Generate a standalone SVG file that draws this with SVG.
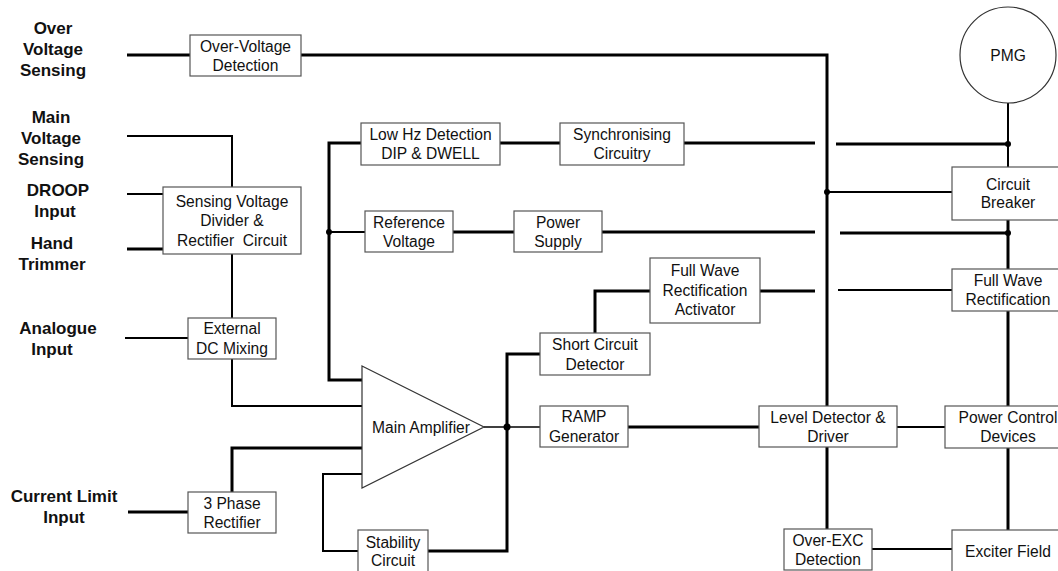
<svg xmlns="http://www.w3.org/2000/svg" width="1058" height="571" viewBox="0 0 1058 571">
<style>
.box{fill:#fff;stroke:#555;stroke-width:1.2}
.t{font-family:"Liberation Sans",Arial,sans-serif;font-size:15.6px;fill:#111;text-anchor:middle;dominant-baseline:central}
.lb{font-family:"Liberation Sans",Arial,sans-serif;font-size:17px;font-weight:bold;fill:#111;text-anchor:middle;dominant-baseline:central}
.w{fill:none;stroke:#000;stroke-width:3;stroke-linejoin:miter}
.n{fill:none;stroke:#000;stroke-width:2}
.h{fill:none;stroke:#000;stroke-width:1.3}
</style>
<rect width="1058" height="571" fill="#fff"/>
<g id="labels">
<text class="lb" x="53" y="28">Over</text><text class="lb" x="53" y="49">Voltage</text><text class="lb" x="53" y="70">Sensing</text>
<text class="lb" x="51" y="117">Main</text><text class="lb" x="51" y="138">Voltage</text><text class="lb" x="51" y="159">Sensing</text>
<text class="lb" x="58" y="190">DROOP</text><text class="lb" x="55" y="211">Input</text>
<text class="lb" x="52" y="243">Hand</text><text class="lb" x="52" y="264">Trimmer</text>
<text class="lb" x="58" y="328">Analogue</text><text class="lb" x="52" y="349">Input</text>
<text class="lb" x="64" y="496">Current Limit</text><text class="lb" x="64" y="517">Input</text>
</g>
<g id="connectors">
<path class="w" d="M127 55H190"/>
<path class="w" d="M301 55H827V408"/>
<path class="n" d="M127 136H232V187"/>
<path class="n" d="M127 194H163"/>
<path class="w" d="M127 249H163"/>
<path class="n" d="M232 254V318"/>
<path class="n" d="M125 338H188"/>
<path class="n" d="M232 359V406H362"/>
<path class="w" d="M361 143H329V380H362"/>
<path class="n" d="M329 232H365"/>
<path class="w" d="M500 143H560"/>
<path class="w" d="M684 143H815"/>
<path class="w" d="M836 144H1008"/>
<path class="w" d="M453 232H514"/>
<path class="w" d="M602 232H815"/>
<path class="w" d="M840 233H1008"/>
<path class="n" d="M1008 103V167"/>
<path class="n" d="M827 192H952"/>
<path class="w" d="M1008 220V269"/>
<path class="w" d="M760 291H815"/>
<path class="n" d="M838 290H952"/>
<path class="w" d="M1008 311V407"/>
<path class="w" d="M650 291H595V333"/>
<path class="w" d="M540 354H507V551H428"/>
<path class="h" d="M484 427H540"/>
<path class="w" d="M628 427H759"/>
<path class="n" d="M897 427H945"/>
<path class="w" d="M827 447V529"/>
<path class="n" d="M872 549H952"/>
<path class="w" d="M1008 448V530"/>
<path class="w" d="M188 512H128"/>
<path class="w" d="M232 492V448H362"/>
<path class="n" d="M362 474H323V551H358"/>
<circle cx="329" cy="232" r="3"/>
<circle cx="1008" cy="144" r="3"/>
<circle cx="827" cy="192" r="3"/>
<circle cx="1008" cy="233" r="3"/>
<circle cx="507" cy="427" r="3.5"/>
</g>
<g id="over-voltage-detection"><rect class="box" x="190" y="35" width="111" height="41"/><text class="t" x="245.5" y="46">Over-Voltage</text><text class="t" x="245.5" y="65">Detection</text></g>
<g id="sensing-voltage-divider"><rect class="box" x="163" y="187" width="138" height="67"/><text class="t" x="232" y="201">Sensing Voltage</text><text class="t" x="232" y="220">Divider &amp;</text><text class="t" x="232" y="240" xml:space="preserve">Rectifier  Circuit</text></g>
<g id="external-dc-mixing"><rect class="box" x="188" y="318" width="88" height="41"/><text class="t" x="232" y="328">External</text><text class="t" x="232" y="348">DC Mixing</text></g>
<g id="three-phase-rectifier"><rect class="box" x="188" y="492" width="88" height="41"/><text class="t" x="232" y="503">3 Phase</text><text class="t" x="232" y="522">Rectifier</text></g>
<g id="low-hz-detection"><rect class="box" x="361" y="123" width="139" height="42"/><text class="t" x="430.5" y="134">Low Hz Detection</text><text class="t" x="430.5" y="153">DIP &amp; DWELL</text></g>
<g id="synchronising-circuitry"><rect class="box" x="560" y="123" width="124" height="42"/><text class="t" x="622" y="134">Synchronising</text><text class="t" x="622" y="153">Circuitry</text></g>
<g id="reference-voltage"><rect class="box" x="365" y="211" width="88" height="41"/><text class="t" x="409" y="222">Reference</text><text class="t" x="409" y="241">Voltage</text></g>
<g id="power-supply"><rect class="box" x="514" y="211" width="88" height="41"/><text class="t" x="558" y="222">Power</text><text class="t" x="558" y="241">Supply</text></g>
<g id="fw-rectification-activator"><rect class="box" x="650" y="258" width="110" height="65"/><text class="t" x="705" y="270">Full Wave</text><text class="t" x="705" y="290">Rectification</text><text class="t" x="705" y="309">Activator</text></g>
<g id="short-circuit-detector"><rect class="box" x="540" y="333" width="110" height="42"/><text class="t" x="595" y="344">Short Circuit</text><text class="t" x="595" y="364">Detector</text></g>
<g id="main-amplifier"><path d="M362 366L484 427L362 488Z" fill="#fff" stroke="#333" stroke-width="1.2"/><text class="t" x="421" y="427">Main Amplifier</text></g>
<g id="ramp-generator"><rect class="box" x="540" y="406" width="88" height="41"/><text class="t" x="584" y="416">RAMP</text><text class="t" x="584" y="436">Generator</text></g>
<g id="stability-circuit"><rect class="box" x="358" y="530" width="70" height="45"/><text class="t" x="393" y="542">Stability</text><text class="t" x="393" y="560">Circuit</text></g>
<g id="level-detector"><rect class="box" x="759" y="406" width="138" height="41"/><text class="t" x="828" y="417">Level Detector &amp;</text><text class="t" x="828" y="436">Driver</text></g>
<g id="over-exc-detection"><rect class="box" x="784" y="529" width="88" height="41"/><text class="t" x="828" y="540">Over-EXC</text><text class="t" x="828" y="559">Detection</text></g>
<g id="pmg"><circle cx="1008" cy="55" r="48" fill="#fff" stroke="#333" stroke-width="1.2"/><text class="t" x="1008" y="55">PMG</text></g>
<g id="circuit-breaker"><rect class="box" x="952" y="167" width="110" height="53"/><text class="t" x="1008" y="184">Circuit</text><text class="t" x="1008" y="202">Breaker</text></g>
<g id="full-wave-rectification"><rect class="box" x="952" y="269" width="110" height="42"/><text class="t" x="1008" y="280">Full Wave</text><text class="t" x="1008" y="299">Rectification</text></g>
<g id="power-control-devices"><rect class="box" x="945" y="406" width="117" height="42"/><text class="t" x="1008" y="417">Power Control</text><text class="t" x="1008" y="436">Devices</text></g>
<g id="exciter-field"><rect class="box" x="952" y="530" width="110" height="45"/><text class="t" x="1008" y="551">Exciter Field</text></g>
</svg>
